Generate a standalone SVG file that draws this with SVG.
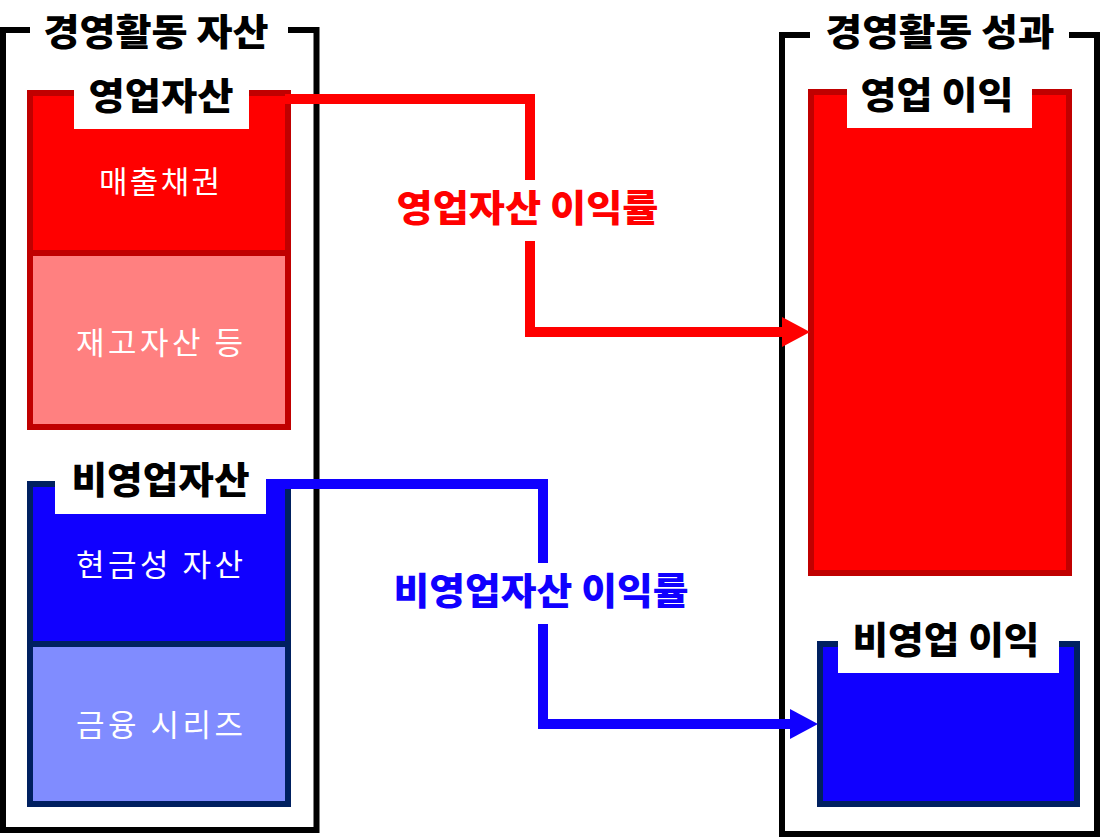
<svg xmlns="http://www.w3.org/2000/svg" width="1101" height="837" viewBox="0 0 1101 837">
  <style>
    .frame { fill: none; stroke: #000000; stroke-width: 6; stroke-linejoin: miter; stroke-linecap: butt; }
    .title { font-family: "Noto Sans CJK KR", "Noto Sans", sans-serif; font-weight: 900; font-size: 37px; fill: #000000; text-anchor: middle; }
    .item { font-family: "Noto Sans CJK KR", "Noto Sans", sans-serif; font-weight: 400; font-size: 31px; fill: #FFFFFF; text-anchor: middle; }
    .redbox { stroke: #C00000; stroke-width: 6; }
    .bluebox { stroke: #002060; stroke-width: 6; }
    .lab { fill: #FFFFFF; }
    .conn { fill: none; stroke-width: 10; stroke-linejoin: miter; stroke-linecap: butt; }
    .rate { font-family: "Noto Sans CJK KR", "Noto Sans", sans-serif; font-weight: 900; font-size: 37px; text-anchor: middle; }
  </style>
  <defs>
    <marker id="arrRed" markerUnits="userSpaceOnUse" markerWidth="30" markerHeight="32" refX="0" refY="15" orient="auto">
      <path d="M0,0 L28,15 L0,30 Z" fill="#FF0000"/>
    </marker>
    <marker id="arrBlue" markerUnits="userSpaceOnUse" markerWidth="30" markerHeight="32" refX="0" refY="15" orient="auto">
      <path d="M0,0 L28,15 L0,30 Z" fill="#1000FF"/>
    </marker>
  </defs>
  <rect x="0" y="0" width="1101" height="837" fill="#FFFFFF"/>

  <g id="assets-frame">
    <path class="frame" d="M30,30 H3 V830 H316.5 V30 H288"/>
    <text class="title" x="156" y="46" textLength="225" lengthAdjust="spacingAndGlyphs">경영활동 자산</text>
  </g>

  <g id="results-frame">
    <path class="frame" d="M810,35 H782 V834 H1097 V35 H1069"/>
    <text class="title" x="940" y="46" textLength="229" lengthAdjust="spacingAndGlyphs">경영활동 성과</text>
  </g>

  <g id="operating-assets">
    <rect class="redbox" x="30" y="93" width="258" height="160" fill="#FF0000"/>
    <rect class="redbox" x="30" y="253" width="258" height="174" fill="#FF8080"/>
    <rect class="lab" x="74" y="80" width="175" height="49"/>
    <text class="title" x="161" y="110" textLength="145" lengthAdjust="spacingAndGlyphs">영업자산</text>
    <text class="item" x="159.5" y="193" textLength="121" lengthAdjust="spacing">매출채권</text>
    <text class="item" x="159.5" y="354" textLength="167" lengthAdjust="spacing">재고자산 등</text>
  </g>

  <g id="non-operating-assets">
    <rect class="bluebox" x="30" y="484" width="258" height="160" fill="#1000FF"/>
    <rect class="bluebox" x="30" y="644" width="258" height="160" fill="#808CFF"/>
    <rect class="lab" x="55" y="470" width="211" height="44"/>
    <text class="title" x="160.5" y="494" textLength="178" lengthAdjust="spacingAndGlyphs">비영업자산</text>
    <text class="item" x="159.5" y="576" textLength="167" lengthAdjust="spacing">현금성 자산</text>
    <text class="item" x="159.5" y="736" textLength="167" lengthAdjust="spacing">금융 시리즈</text>
  </g>

  <g id="operating-profit">
    <rect class="redbox" x="811" y="92" width="258" height="481" fill="#FF0000"/>
    <rect class="lab" x="847" y="80" width="185" height="48"/>
    <text class="title" x="937" y="109" textLength="153" lengthAdjust="spacingAndGlyphs">영업 이익</text>
  </g>

  <g id="non-operating-profit">
    <rect class="bluebox" x="820" y="644" width="257" height="160" fill="#1000FF"/>
    <rect class="lab" x="838" y="620" width="221" height="53"/>
    <text class="title" x="946" y="654" textLength="187" lengthAdjust="spacingAndGlyphs">비영업 이익</text>
  </g>

  <g id="connectors">
    <path class="conn" stroke="#FF0000" d="M285,99 H530 V180 M530,241 V332 H782" marker-end="url(#arrRed)"/>
    <path class="conn" stroke="#1000FF" d="M266,484 H543 V563 M543,624 V724 H790" marker-end="url(#arrBlue)"/>
    <text class="rate" x="527.5" y="222" fill="#FF0000" textLength="262" lengthAdjust="spacingAndGlyphs">영업자산 이익률</text>
    <text class="rate" x="541" y="605" fill="#1000FF" textLength="295" lengthAdjust="spacingAndGlyphs">비영업자산 이익률</text>
  </g>
</svg>
